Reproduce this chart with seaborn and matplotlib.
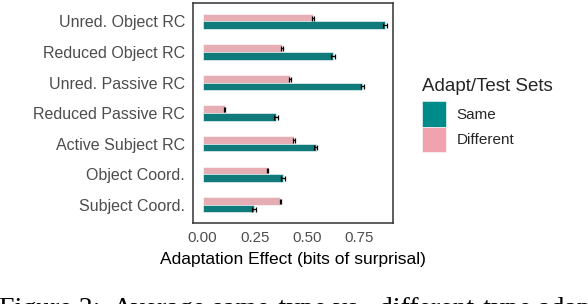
import pandas as pd
import seaborn as sns
import matplotlib.pyplot as plt
from matplotlib.patches import Patch

# data
categories = ["Unred. Object RC", "Reduced Object RC", "Unred. Passive RC",
              "Reduced Passive RC", "Active Subject RC", "Object Coord.",
              "Subject Coord."]
same_vals = [0.872, 0.623, 0.765, 0.351, 0.541, 0.383, 0.244]
diff_vals = [0.527, 0.380, 0.418, 0.105, 0.436, 0.310, 0.372]
same_err = [0.009, 0.009, 0.007, 0.009, 0.007, 0.009, 0.009]
diff_err = [0.004, 0.004, 0.004, 0.004, 0.004, 0.004, 0.004]
set_labels = ["Same", "Different"]
x_ticks = [0.0, 0.25, 0.5, 0.75]
x_tick_labels = ["0.00", "0.25", "0.50", "0.75"]

teal = "#008B8B"
pink = "#F0A3AE"

df = pd.DataFrame({
    "category": categories * 2,
    "effect": same_vals + diff_vals,
    "err": same_err + diff_err,
    "set": ["Same"] * len(categories) + ["Different"] * len(categories),
})

sns.set_style("white")
plt.rcParams["font.family"] = ["Liberation Sans", "DejaVu Sans"]

fig = plt.figure(figsize=(5.88, 3.04), dpi=100)
ax = fig.add_axes([0.329, 0.266, 0.339, 0.724])

hue_order = ["Different", "Same"]
sns.barplot(data=df, y="category", x="effect", hue="set", order=categories,
            hue_order=hue_order, palette={"Same": teal, "Different": pink},
            width=0.5, errorbar=None, edgecolor="#ffffff", linewidth=0.4,
            legend=False, ax=ax)

# error bars at the bar ends
for cont, lvl in zip(ax.containers, hue_order):
    sub = df[df["set"] == lvl].set_index("category").loc[categories]
    for bar, (_, row) in zip(cont, sub.iterrows()):
        yc = bar.get_y() + bar.get_height() / 2
        ax.errorbar(row["effect"], yc, xerr=row["err"], fmt="none",
                    ecolor="black", elinewidth=0.9, capsize=1.8,
                    capthick=0.9, zorder=5)

ax.set_xlim(-0.044, 0.91)
ax.set_ylim(6.6, -0.6)
ax.set_xticks(x_ticks)
ax.set_xticklabels(x_tick_labels)
ax.set_ylabel("")
ax.set_xlabel("Adaptation Effect (bits of surprisal)", fontsize=12.5,
              color="black", labelpad=5)
ax.tick_params(axis="both", which="both", direction="out", length=3.5,
               width=0.8, color="#333333", labelcolor="#4D4D4D", pad=2.5)
ax.tick_params(axis="y", labelsize=11.5)
ax.tick_params(axis="x", labelsize=10.8)
ax.grid(False)
for s in ax.spines.values():
    s.set_visible(True)
    s.set_color("#333333")
    s.set_linewidth(1.1)

handles = [Patch(facecolor=teal, edgecolor="#ffffff", linewidth=0.4),
           Patch(facecolor=pink, edgecolor="#ffffff", linewidth=0.4)]
leg = fig.legend(handles, set_labels, title="Adapt/Test Sets",
                 loc="upper left", bbox_to_anchor=(0.718, 0.745),
                 frameon=False, fontsize=11, title_fontsize=13.5,
                 handlelength=1.55, handleheight=2.15, labelspacing=0.0,
                 handletextpad=0.7, borderpad=0, borderaxespad=0)
leg._legend_box.align = "left"
leg._legend_box.sep = 5

fig.text(-0.002, 0.022, "Figure 3:  Average same-type vs.  different-type adaptation",
         ha="left", va="top", fontsize=20,
         family=["Liberation Serif", "DejaVu Serif"], color="black")

fig.savefig("out.png", dpi=100)
